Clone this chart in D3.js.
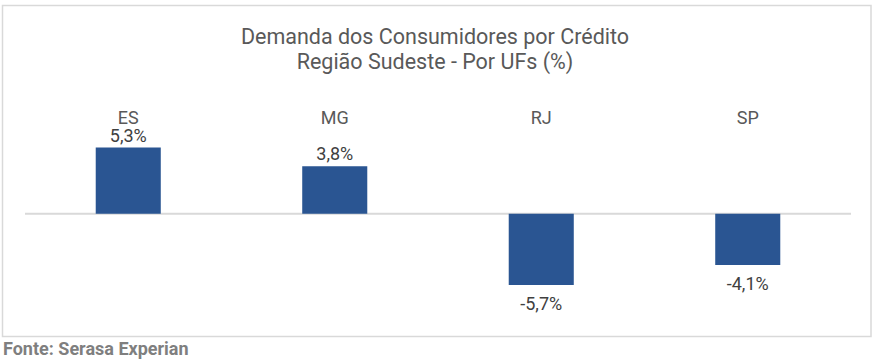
<!DOCTYPE html>
<html><head><meta charset="utf-8">
<script src="https://cdn.jsdelivr.net/npm/d3@7"></script>
<style>
html,body{margin:0;padding:0;background:#fff;}
svg{display:block;font-family:Roboto,"Noto Sans",sans-serif;}
</style></head>
<body>
<svg id="chart" width="873" height="364"></svg>
<script>
const categories = ["ES", "MG", "RJ", "SP"];
const values = [5.3, 3.8, -5.7, -4.1];
const valueLabels = ["5,3%", "3,8%", "-5,7%", "-4,1%"];
const titleLines = ["Demanda dos Consumidores por Crédito", "Região Sudeste - Por UFs (%)"];
const sourceText = "Fonte: Serasa Experian";

const svg = d3.select("#chart");
const textColor = "#595959";
const barColor = "#2a5592";

// frame
svg.append("rect").attr("x", 2.5).attr("y", 5.5).attr("width", 868.5).attr("height", 331)
  .attr("fill", "#fff").attr("stroke", "#d9d9d9").attr("stroke-width", 1.5);

// title
svg.append("g").selectAll("text").data(titleLines).join("text")
  .attr("x", 435).attr("y", (d, i) => 44 + i * 25)
  .attr("text-anchor", "middle").attr("fill", textColor)
  .attr("font-size", 21.5).text(d => d);

const x = d3.scaleBand().domain(categories).range([25, 851]).paddingInner(0.685).paddingOuter(0.3425);
const y = d3.scaleLinear().domain([-5.7, 5.3]).range([285, 147.5]);

const data = categories.map((c, i) => ({c, v: values[i], label: valueLabels[i]}));

// baseline
svg.append("line").attr("x1", 25).attr("x2", 851).attr("y1", y(0)).attr("y2", y(0))
  .attr("stroke", "#d9d9d9").attr("stroke-width", 2);

svg.append("g").selectAll("rect").data(data).join("rect")
  .attr("x", d => x(d.c)).attr("width", x.bandwidth())
  .attr("y", d => Math.min(y(d.v), y(0)))
  .attr("height", d => Math.abs(y(d.v) - y(0)))
  .attr("fill", barColor);

// category labels
svg.append("g").selectAll("text").data(data).join("text")
  .attr("x", d => x(d.c) + x.bandwidth() / 2).attr("y", 123.5)
  .attr("text-anchor", "middle").attr("fill", textColor).attr("font-size", 18)
  .text(d => d.c);

// value labels
svg.append("g").selectAll("text").data(data).join("text")
  .attr("x", d => x(d.c) + x.bandwidth() / 2)
  .attr("y", d => d.v > 0 ? y(d.v) - 6 : y(d.v) + 25)
  .attr("text-anchor", "middle").attr("fill", "#404040").attr("font-size", 18)
  .text(d => d.label);

// source
svg.append("text").attr("x", 3).attr("y", 355).attr("fill", "#7f7f7f")
  .attr("font-size", 18).attr("font-weight", "bold").text(sourceText);
</script>
</body></html>
